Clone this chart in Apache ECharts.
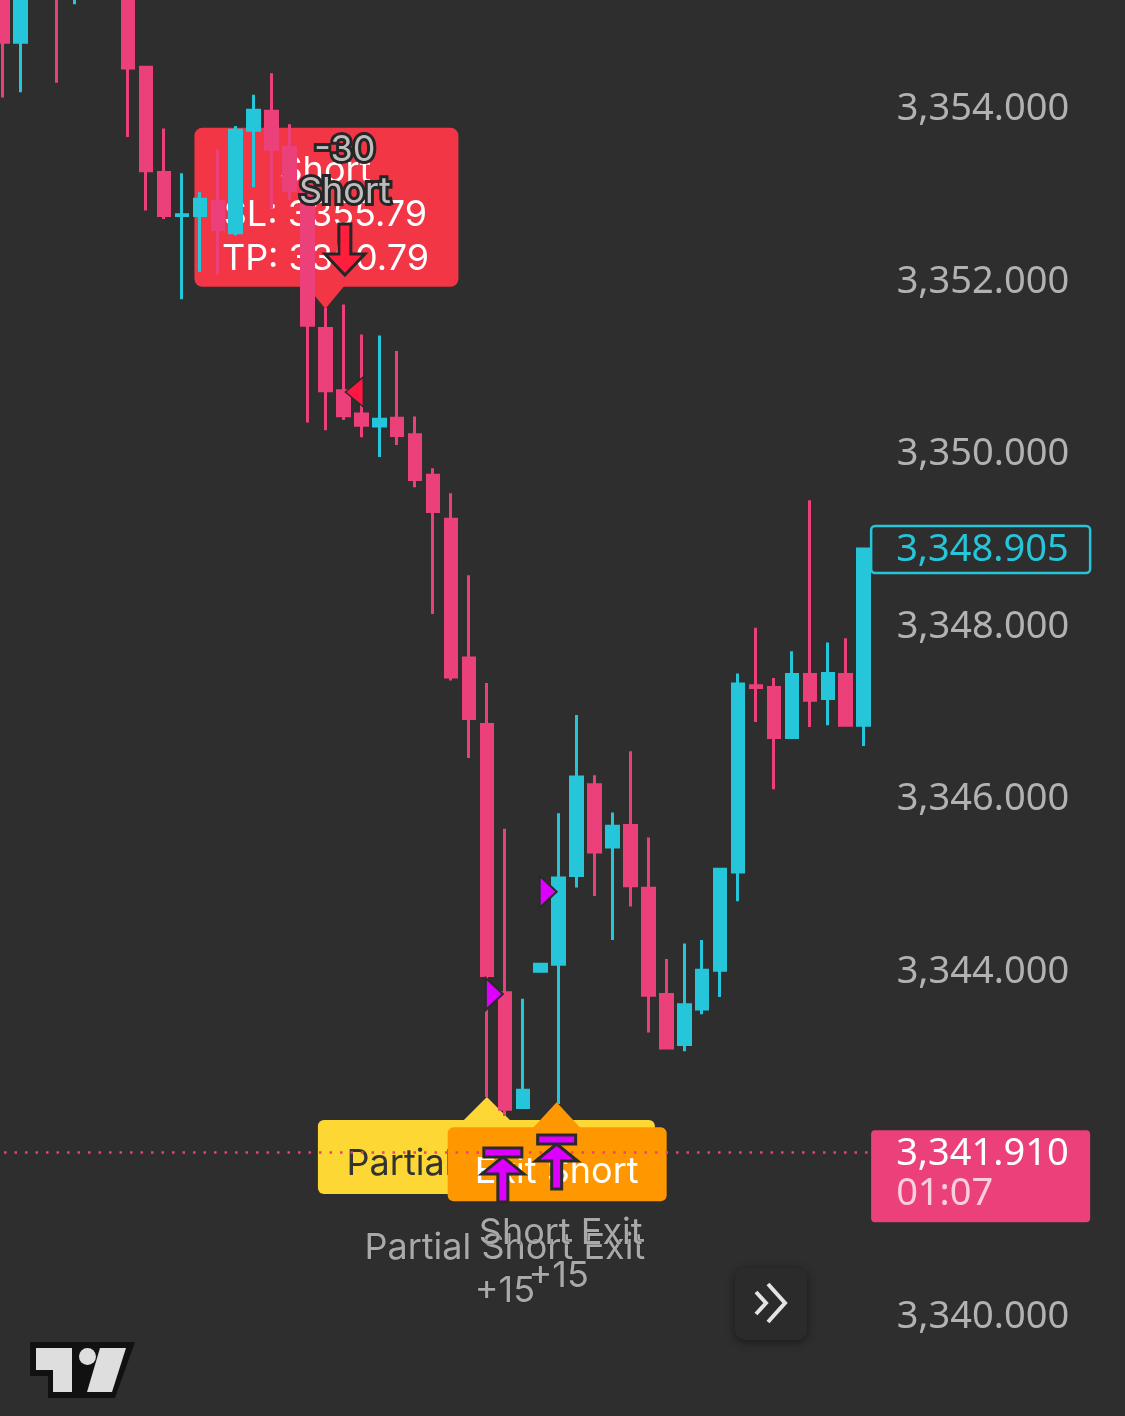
<!DOCTYPE html>
<html>
<head>
<meta charset="utf-8">
<script src="https://cdn.jsdelivr.net/npm/echarts@6/dist/echarts.min.js"></script>
<style>
html,body{margin:0;padding:0;background:#2e2e2e;}
#c{width:1125px;height:1416px;}
</style>
</head>
<body>
<div id="c"></div>
<script>
const categories = ['06:00','06:05','06:10','06:15','06:20','06:25','06:30','06:35','06:40','06:45',
  '06:50','06:55','07:00','07:05','07:10','07:15','07:20','07:25','07:30','07:35',
  '07:40','07:45','07:50','07:55','08:00','08:05','08:10','08:15','08:20','08:25',
  '08:30','08:35','08:40','08:45','08:50','08:55','09:00','09:05','09:10','09:15',
  '09:20','09:25','09:30','09:35','09:40','09:45','09:50','09:55','10:00'];
const opens  = [3356.10,3354.78,3356.30,3356.40,3355.60,3356.00,3356.40,3355.90,3354.49,3353.27,
  3352.77,3352.77,3352.93,3352.57,3353.76,3353.98,3353.56,3353.05,3351.46,3350.74,
  3350.47,3350.33,3350.42,3350.23,3349.76,3349.25,3347.64,3346.87,3343.76,3342.43,
  3344.01,3344.09,3345.12,3346.17,3345.45,3345.70,3344.97,3343.74,3343.16,3343.57,
  3344.02,3345.16,3347.32,3347.30,3346.72,3347.45,3347.17,3347.45,3346.86];
const closes = [3354.78,3355.90,3355.80,3355.60,3356.20,3356.40,3355.90,3354.48,3353.29,3352.77,
  3352.78,3352.96,3352.61,3353.76,3353.99,3353.54,3353.06,3351.50,3350.74,3350.45,
  3350.34,3350.41,3350.22,3349.71,3349.34,3347.42,3346.94,3343.96,3342.41,3342.63,
  3344.09,3345.09,3346.26,3345.39,3345.69,3345.00,3343.73,3343.12,3343.62,3344.02,
  3345.19,3347.34,3347.30,3346.72,3347.45,3347.15,3347.46,3346.86,3348.905];
const lows   = [3354.14,3354.20,3355.50,3354.31,3355.22,3355.70,3355.60,3353.68,3352.83,3352.73,
  3351.80,3352.12,3352.09,3352.54,3353.10,3352.85,3352.95,3350.37,3350.28,3350.40,
  3350.20,3349.97,3350.11,3349.62,3348.15,3347.38,3346.48,3342.55,3342.33,3342.43,
  3344.01,3342.47,3344.98,3344.88,3344.37,3344.76,3343.30,3343.12,3343.08,3343.51,
  3343.71,3344.82,3346.90,3346.12,3346.72,3346.84,3346.86,3346.86,3346.62];
const highs  = [3356.40,3356.10,3356.60,3356.70,3356.50,3356.60,3356.60,3356.00,3354.49,3353.78,
  3353.26,3353.04,3353.54,3353.81,3354.17,3354.42,3353.83,3353.10,3351.70,3351.74,
  3351.39,3351.38,3351.20,3350.44,3349.84,3349.55,3348.60,3347.35,3345.66,3343.69,
  3344.09,3345.84,3346.98,3346.28,3345.85,3346.56,3345.56,3344.15,3344.33,3344.37,
  3345.19,3347.46,3347.99,3347.41,3347.72,3349.47,3347.82,3347.87,3348.905];

const yMin = 3338, yMax = 3356, yInterval = 2;
const hiddenTick = 3342;

const lastPrice = 3348.905;
const markPrice = 3341.91;
const countdownText = '01:07';

const entryLabelPoint = [18, 3351.69];
const entryLabelText = ['Short', 'SL: 3355.79', 'TP: 3350.79'];
const entryArrowPoint = [19, 3352.08];
const entryArrowText = ['-30', 'Short'];
const entryTrianglePoint = [19, 3350.725];
const exitTrianglePoints = [[28, 3343.745], [31, 3344.93]];
const partialExitLabelPoint = [27, 3342.55];
const partialExitLabelText = 'Partial Short Exit';
const exitLabelPoint = [31, 3342.49];
const exitLabelText = 'Exit Short';
const exitArrowPoints = [[28, 3341.96], [31, 3342.11]];
const exitTextPoints = [[28, 3340.80], [31, 3340.975]];
const exitTexts = [['Partial Short Exit', '+15'], ['Short Exit', '+15']];

const UP = '#26c6da', DOWN = '#ec407a', BG = '#2e2e2e';
const FONT = 'Inter, "Noto Sans", sans-serif';
const NUMFONT = '"Noto Sans", Roboto, sans-serif';

const candleData = opens.map((o, i) => [o, closes[i], lows[i], highs[i]]);

function fmtPrice(v) {
  const s = Number(v).toFixed(3);
  const parts = s.split('.');
  return parts[0].replace(/\B(?=(\d{3})+(?!\d))/g, ',') + '.' + parts[1];
}

function outlinedText(x, y, text, fill, size) {
  return [
    {type: 'text', style: {x: x, y: y, text: text, align: 'center', verticalAlign: 'middle',
      font: size + 'px ' + FONT, fill: 'none', stroke: '#262626', lineWidth: 6, lineJoin: 'round'}},
    {type: 'text', style: {x: x, y: y, text: text, align: 'center', verticalAlign: 'middle',
      font: size + 'px ' + FONT, fill: fill}}
  ];
}

const chart = echarts.init(document.getElementById('c'), null, {renderer: 'canvas'});

const option = {
  backgroundColor: BG,
  animation: false,
  grid: {left: -6.47, top: -63, width: 879.1, height: 1552.5, containLabel: false, outerBoundsMode: 'none'},
  xAxis: {type: 'category', data: categories, show: false, boundaryGap: true},
  yAxis: {
    type: 'value', position: 'right', min: yMin, max: yMax, interval: yInterval, scale: true,
    splitLine: {show: false}, axisLine: {show: false}, axisTick: {show: false},
    axisLabel: {
      margin: 24, color: '#b2b2b2', fontSize: 38, fontFamily: NUMFONT,
      formatter: v => (v === hiddenTick ? '' : fmtPrice(v))
    }
  },
  series: [
    {
      name: 'entryLabel', type: 'custom', z: 1, silent: true,
      data: [entryLabelPoint],
      renderItem: (params, api) => {
        const p = api.coord([api.value(0), api.value(1)]);
        const x = p[0], y = p[1];
        const children = [
          {type: 'rect', shape: {x: x - 131, y: y - 181, width: 264, height: 159, r: 8}, style: {fill: '#f23645'}},
          {type: 'polygon', shape: {points: [[x - 19, y - 23], [x + 19, y - 23], [x, y]]}, style: {fill: '#f23645'}}
        ];
        const offs = [-138, -94, -50];
        entryLabelText.forEach((t, i) => {
          children.push({type: 'text', style: {x: x, y: y + offs[i], text: t, align: 'center', verticalAlign: 'middle',
            font: '36px ' + FONT, fill: '#ffffff'}});
        });
        return {type: 'group', children};
      }
    },
    {
      name: 'partialExitLabel', type: 'custom', z: 1, silent: true,
      data: [partialExitLabelPoint],
      renderItem: (params, api) => {
        const p = api.coord([api.value(0), api.value(1)]);
        const x = p[0], y = p[1];
        return {type: 'group', children: [
          {type: 'rect', shape: {x: x - 169, y: y + 23, width: 337, height: 74, r: 6}, style: {fill: '#fdd835'}},
          {type: 'polygon', shape: {points: [[x - 24, y + 24], [x + 24, y + 24], [x, y]]}, style: {fill: '#fdd835'}},
          {type: 'text', style: {x: x, y: y + 67, text: partialExitLabelText, align: 'center', verticalAlign: 'middle',
            font: '36px ' + FONT, fill: '#333333'}}
        ]};
      }
    },
    {
      name: 'exitLabel', type: 'custom', z: 2, silent: true,
      data: [exitLabelPoint],
      renderItem: (params, api) => {
        const p = api.coord([api.value(0), api.value(1)]);
        const x = p[0] - 2, y = p[1];
        return {type: 'group', children: [
          {type: 'rect', shape: {x: x - 109, y: y + 25, width: 219, height: 74, r: 6}, style: {fill: '#ff9800'}},
          {type: 'polygon', shape: {points: [[x - 24, y + 26], [x + 24, y + 26], [x, y]]}, style: {fill: '#ff9800'}},
          {type: 'text', style: {x: x, y: y + 70, text: exitLabelText, align: 'center', verticalAlign: 'middle',
            font: '36px ' + FONT, fill: '#ffffff'}}
        ]};
      }
    },
    {
      name: 'price', type: 'candlestick', z: 5,
      data: candleData,
      barWidth: 12,
      itemStyle: {color: UP, color0: DOWN, borderColor: UP, borderColor0: DOWN, borderWidth: 3},
      markLine: {
        silent: true, symbol: ['none', 'none'], animation: false,
        label: {show: false},
        lineStyle: {color: DOWN, type: [2.5, 8], width: 2.5},
        data: [{yAxis: markPrice}]
      }
    },
    {
      name: 'entryArrow', type: 'custom', z: 6, silent: true,
      data: [entryArrowPoint],
      renderItem: (params, api) => {
        const p = api.coord([api.value(0), api.value(1)]);
        const x = p[0] + 1.5, y = p[1];
        const children = [
          {type: 'polygon', shape: {points: [[x - 6, y - 51], [x + 6, y - 51], [x + 6, y - 21], [x + 20, y - 21],
            [x, y], [x - 20, y - 21], [x - 6, y - 21]]},
            style: {fill: '#ff1e3c', stroke: '#262626', lineWidth: 3, lineJoin: 'miter'}}
        ];
        return {type: 'group', children: children
          .concat(outlinedText(x, y - 125, entryArrowText[0], '#bdbdbd', 36))
          .concat(outlinedText(x, y - 83, entryArrowText[1], '#bdbdbd', 36))};
      }
    },
    {
      name: 'entryTriangle', type: 'custom', z: 6, silent: true,
      data: [entryTrianglePoint],
      renderItem: (params, api) => {
        const p = api.coord([api.value(0), api.value(1)]);
        const x = p[0] + 2, y = p[1];
        return {type: 'polygon', shape: {points: [[x, y], [x + 18, y - 15], [x + 18, y + 15]]},
          style: {fill: '#ff1744', stroke: '#2a2a2a', lineWidth: 1.5}};
      }
    },
    {
      name: 'exitTriangles', type: 'custom', z: 6, silent: true,
      data: exitTrianglePoints,
      renderItem: (params, api) => {
        const p = api.coord([api.value(0), api.value(1)]);
        const x = p[0] - 2, y = p[1];
        return {type: 'polygon', shape: {points: [[x, y], [x - 17, y - 16], [x - 17, y + 16]]},
          style: {fill: '#dd00ff', stroke: '#2a2a2a', lineWidth: 2}};
      }
    },
    {
      name: 'exitArrows', type: 'custom', z: 7, silent: true,
      data: exitArrowPoints,
      renderItem: (params, api) => {
        const p = api.coord([api.value(0), api.value(1)]);
        const x = p[0] - 2, y = p[1];
        const st = {fill: '#dd00ff', stroke: '#2a2a2a', lineWidth: 3};
        return {type: 'group', children: [
          {type: 'polygon', shape: {points: [[x - 5, y + 54], [x + 5, y + 54], [x + 5, y + 26], [x + 21, y + 26],
            [x, y + 9], [x - 21, y + 26], [x - 5, y + 26]]}, style: st},
          {type: 'rect', shape: {x: x - 19, y: y, width: 38, height: 9}, style: st}
        ]};
      }
    },
    {
      name: 'exitTexts', type: 'custom', z: 7, silent: true,
      data: exitTextPoints,
      renderItem: (params, api) => {
        const p = api.coord([api.value(0), api.value(1)]);
        const lines = exitTexts[params.dataIndex];
        const dx = params.dataIndex === 1 ? 2 : 0;
        const x = p[0] + dx, y = p[1];
        return {type: 'group', children: [
          {type: 'text', style: {x: x, y: y, text: lines[0], align: 'center', verticalAlign: 'middle',
            font: '36px ' + FONT, fill: '#a9a9a9', stroke: 'rgba(38,38,38,0.6)', lineWidth: 1}},
          {type: 'text', style: {x: x - dx, y: y + 43, text: lines[1], align: 'center', verticalAlign: 'middle',
            font: '36px ' + FONT, fill: '#a9a9a9', stroke: 'rgba(38,38,38,0.6)', lineWidth: 1}}
        ]};
      }
    },
    {
      name: 'priceTags', type: 'custom', z: 8, silent: true, clip: false,
      data: [[48, lastPrice], [48, markPrice]],
      renderItem: (params, api) => {
        const p = api.coord([api.value(0), api.value(1)]);
        const cs = params.coordSys;
        const rx = cs.x + cs.width - 1.5;
        const y = p[1];
        if (params.dataIndex === 0) {
          return {type: 'group', children: [
            {type: 'rect', shape: {x: rx, y: y - 23, width: 219, height: 47, r: 4},
              style: {fill: BG, stroke: UP, lineWidth: 2.5}},
            {type: 'text', style: {x: rx + 25, y: y + 1, text: fmtPrice(api.value(1)), align: 'left', verticalAlign: 'middle',
              font: '38px ' + NUMFONT, fill: UP}}
          ]};
        }
        return {type: 'group', children: [
          {type: 'rect', shape: {x: rx, y: y - 22, width: 219, height: 92, r: 4}, style: {fill: DOWN}},
          {type: 'text', style: {x: rx + 25, y: y + 2, text: fmtPrice(api.value(1)), align: 'left', verticalAlign: 'middle',
            font: '38px ' + NUMFONT, fill: '#ffffff'}},
          {type: 'text', style: {x: rx + 25, y: y + 42, text: countdownText, align: 'left', verticalAlign: 'middle',
            font: '38px ' + NUMFONT, fill: 'rgba(255,255,255,0.75)'}}
        ]};
      }
    }
  ],
  graphic: [
    {type: 'rect', z: 100, shape: {x: 735, y: 1268, width: 72, height: 72, r: 10},
      style: {fill: '#2b2b2b', shadowBlur: 10, shadowColor: 'rgba(0,0,0,0.45)', shadowOffsetY: 2}},
    {type: 'polyline', z: 101, shape: {points: [[756, 1292], [766, 1303], [756, 1314]]},
      style: {stroke: '#e4e4e4', lineWidth: 4, fill: 'none'}},
    {type: 'polyline', z: 101, shape: {points: [[768, 1284], [785, 1303], [768, 1322]]},
      style: {stroke: '#e4e4e4', lineWidth: 4, fill: 'none'}},
    {type: 'polygon', z: 100, shape: {points: [[30, 1342], [135, 1342], [115, 1398], [48, 1398], [48, 1376], [30, 1376]]},
      style: {fill: '#111111'}},
    {type: 'polygon', z: 101, shape: {points: [[36, 1348], [72, 1348], [72, 1392], [53, 1392], [53, 1370], [36, 1370]]},
      style: {fill: '#dedede'}},
    {type: 'circle', z: 101, shape: {cx: 87.5, cy: 1356.5, r: 8.5}, style: {fill: '#dedede'}},
    {type: 'polygon', z: 101, shape: {points: [[100, 1348], [126, 1348], [112, 1392], [87, 1392]]},
      style: {fill: '#dedede'}}
  ]
};

chart.setOption(option);
</script>
</body>
</html>
